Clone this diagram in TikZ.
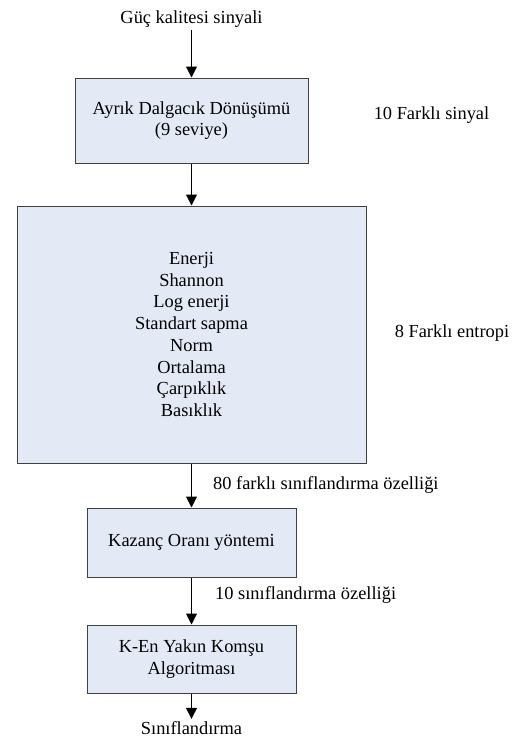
\documentclass[tikz,border=0pt]{standalone}
\usepackage{fontspec}
\setmainfont{Liberation Serif}
\usetikzlibrary{arrows.meta}
\definecolor{boxfill}{RGB}{228,234,245}
\definecolor{boxline}{RGB}{64,64,64}
\tikzset{
  txt/.style={font=\fontsize{18.4}{21.7}\selectfont, inner sep=0pt, align=center},
  procbox/.style={txt, draw=boxline, fill=boxfill, line width=1pt},
  flow/.style={-{Triangle[length=11pt,width=11pt]}, line width=1pt, black},
}
\begin{document}
\begin{tikzpicture}[x=1pt,y=-1pt]
\useasboundingbox (0,0) rectangle (524,737);
\node[txt, anchor=base] (in) at (191.5,23) {Güç kalitesi sinyali};
\node[procbox, minimum width=233pt, minimum height=85pt] (b1) at (191.5,120.5) {Ayrık Dalgacık Dönüşümü\\(9 seviye)};
\node[procbox, minimum width=349pt, minimum height=257pt] (b2) at (191.5,334.5) {Enerji\\Shannon\\Log enerji\\Standart sapma\\Norm\\Ortalama\\Çarpıklık\\Basıklık};
\node[procbox, minimum width=209pt, minimum height=69pt] (b3) at (191.5,542.5) {Kazanç Oranı yöntemi};
\node[procbox, minimum width=209pt, minimum height=68pt] (b4) at (191.5,659) {K-En Yakın Komşu\\Algoritması};
\node[txt, anchor=base] (out) at (191.5,734) {Sınıflandırma};
\node[txt] (l1) at (431.5,115) {10 Farklı sinyal};
\node[txt] (l2) at (452,333) {8 Farklı entropi};
\node[txt, anchor=west] (l3) at (213,485) {80 farklı sınıflandırma özelliği};
\node[txt, anchor=west] (l4) at (215,595) {10 sınıflandırma özelliği};
\draw[flow, shorten <=3pt] (in) -- (b1);
\draw[flow] (b1) -- (b2);
\draw[flow] (b2) -- (b3);
\draw[flow] (b3) -- (b4);
\draw[flow, shorten >=2pt] (b4) -- (out);
\end{tikzpicture}
\end{document}
